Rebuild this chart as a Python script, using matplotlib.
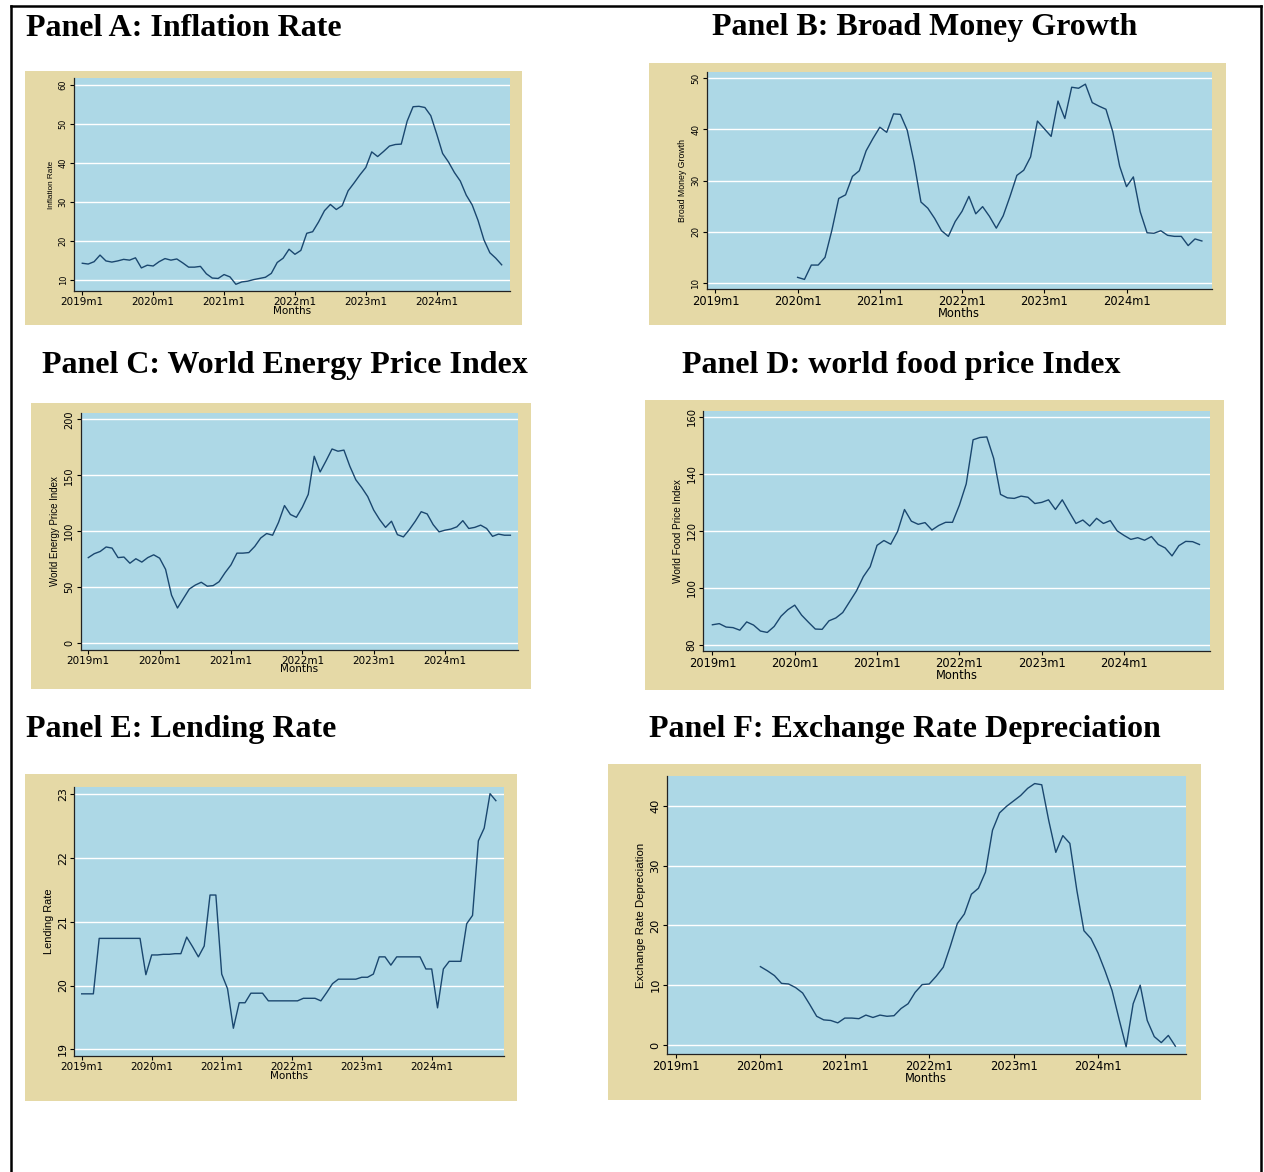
import numpy as np
import matplotlib.pyplot as plt
from matplotlib.patches import Rectangle
from matplotlib.lines import Line2D

W, H = 1264, 1172
nan = np.nan

months = np.arange(72)
tick_pos = [0, 12, 24, 36, 48, 60]
tick_lab = ["2019m1", "2020m1", "2021m1", "2022m1", "2023m1", "2024m1"]

inflation = [14.3, 14.1, 14.7, 16.4, 14.9, 14.6, 14.9, 15.3, 15.1, 15.7, 13.1, 13.8,
             13.6, 14.7, 15.5, 15.1, 15.4, 14.4, 13.3, 13.3, 13.5, 11.6, 10.5, 10.4,
             11.4, 10.8, 8.9, 9.5, 9.7, 10.1, 10.4, 10.7, 11.7, 14.5, 15.6, 17.9,
             16.6, 17.6, 22.0, 22.4, 24.9, 27.8, 29.4, 28.1, 29.1, 32.9, 34.9, 37.0,
             38.9, 42.9, 41.7, 43.0, 44.4, 44.8, 44.9, 50.8, 54.5, 54.6, 54.3, 52.2,
             47.5, 42.5, 40.3, 37.6, 35.4, 31.8, 29.3, 25.3, 20.3, 17.0, 15.6, 13.9]

broad_money = [nan] * 12 + [
    11.1, 10.7, 13.5, 13.5, 15.0, 20.3, 26.5, 27.2, 30.8, 31.9, 35.8, 38.2,
    40.4, 39.4, 43.0, 42.9, 39.8, 33.5, 25.8, 24.6, 22.6, 20.2, 19.1, 22.0,
    24.0, 26.9, 23.5, 24.9, 23.0, 20.7, 23.1, 26.9, 31.0, 32.0, 34.6, 41.6,
    40.1, 38.6, 45.5, 42.1, 48.2, 48.0, 48.8, 45.2, 44.5, 43.9, 39.5, 32.8,
    28.8, 30.7, 23.9, 19.8, 19.7, 20.2, 19.3, 19.1, 19.1, 17.3, 18.6, 18.2]

energy = [76.5, 80, 82, 86, 85, 76.5, 77, 71.5, 75.5, 72.5, 76.5, 79,
          76, 66, 43, 31.5, 40, 48.5, 52, 54.5, 51, 51.5, 55, 63,
          70, 80.5, 80.5, 81, 86.5, 94, 98, 96.5, 108, 123, 115, 112.5,
          121.5, 133, 167, 153, 163, 173.5, 171.5, 172.5, 158, 146, 139, 131,
          119, 110.5, 103.5, 109, 97, 95, 101.5, 109, 117.5, 115.5, 106, 99.5,
          101, 102, 104, 109.5, 102.5, 103.5, 105.5, 102.5, 95.5, 97.5, 96.5, 96.5]

food = [87.0, 87.4, 86.2, 86.0, 85.1, 88.0, 86.9, 84.8, 84.3, 86.4, 90.0, 92.3,
        93.9, 90.4, 87.9, 85.5, 85.4, 88.4, 89.4, 91.3, 95.1, 98.9, 103.9, 107.4,
        114.9, 116.6, 115.3, 119.8, 127.5, 123.4, 122.3, 122.9, 120.3, 121.9, 123.0, 123.0,
        129.0, 136.5, 152.0, 152.8, 153.0, 145.5, 132.8, 131.6, 131.4, 132.2, 131.8, 129.6,
        130.0, 130.9, 127.5, 130.9, 126.7, 122.6, 123.8, 121.7, 124.4, 122.6, 123.6, 120.0,
        118.4, 117.0, 117.6, 116.7, 118.0, 115.2, 114.0, 111.2, 114.8, 116.3, 116.2, 115.2]

lending = [19.87, 19.87, 19.87, 20.74, 20.74, 20.74, 20.74, 20.74, 20.74, 20.74, 20.74, 20.17,
           20.48, 20.48, 20.49, 20.49, 20.50, 20.50, 20.76, 20.61, 20.45, 20.62, 21.42, 21.42,
           20.18, 19.95, 19.33, 19.73, 19.73, 19.88, 19.88, 19.88, 19.76, 19.76, 19.76, 19.76,
           19.76, 19.76, 19.80, 19.80, 19.80, 19.76, 19.89, 20.03, 20.10, 20.10, 20.10, 20.10,
           20.13, 20.13, 20.18, 20.45, 20.45, 20.32, 20.45, 20.45, 20.45, 20.45, 20.45, 20.26,
           20.26, 19.65, 20.26, 20.38, 20.38, 20.38, 20.97, 21.10, 22.27, 22.47, 23.01, 22.90]

exch_dep = [nan] * 12 + [
    13.1, 12.4, 11.6, 10.3, 10.2, 9.6, 8.7, 6.8, 4.8, 4.2, 4.1, 3.7,
    4.5, 4.5, 4.4, 5.0, 4.6, 5.0, 4.8, 4.9, 6.1, 6.9, 8.8, 10.1,
    10.2, 11.5, 13.0, 16.5, 20.3, 21.9, 25.2, 26.2, 28.9, 35.9, 38.8, 39.9,
    40.8, 41.7, 42.9, 43.7, 43.5, 37.5, 32.2, 35.0, 33.7, 25.8, 19.1, 17.8,
    15.4, 12.4, 9.1, 4.3, -0.3, 6.9, 10.0, 4.1, 1.4, 0.4, 1.6, -0.2]

titles = ["Panel A: Inflation Rate", "Panel B: Broad Money Growth",
          "Panel C: World Energy Price Index", "Panel D: world food price Index",
          "Panel E: Lending Rate", "Panel F: Exchange Rate Depreciation"]
ylabels = ["Inflation Rate", "Broad Money Growth", "World Energy Price Index",
           "World Food Price Index", "Lending Rate", "Exchange Rate Depreciation"]
yticks = [[10, 20, 30, 40, 50, 60], [10, 20, 30, 40, 50], [0, 50, 100, 150, 200],
          [80, 100, 120, 140, 160], [19, 20, 21, 22, 23], [0, 10, 20, 30, 40]]
series = [inflation, broad_money, energy, food, lending, exch_dep]

# layout in pixels of the reference
title_xy = [(26, 28), (712, 28), (42, 365), (682, 365), (26, 729), (649, 729)]
tan_box = [(25, 71, 522, 325), (649, 63, 1226, 325), (31, 403, 531, 689),
           (645, 400, 1224, 690), (25, 774, 517, 1101), (608, 764, 1201, 1100)]
ax_box = [(74, 78, 510, 291), (706.5, 72, 1211.7, 288.7), (80.7, 413, 518, 649.5),
          (703, 410.7, 1210, 651), (74.3, 787, 504, 1056), (666.7, 776, 1185.7, 1054)]
# pixel of month 0 / month 60, pixel of lowest / highest y tick
xcal = [(82.3, 436.7), (715.4, 1126.5), (88.3, 445), (712.4, 1124), (81.7, 431.7), (676, 1098)]
ycal = [(280, 85.3), (283, 78), (643.3, 419.3), (644.7, 417), (1049.3, 794.3), (1045, 805.7)]
yfs = [5.9, 6.3, 7, 7.2, 7.9, 8.2]
xfs = [7.5, 8.3, 7.5, 8.3, 7.5, 8.3]

TAN = "#e5d9a6"
BLUE = "#add8e6"
NAVY = "#1a476f"

fig = plt.figure(figsize=(W / 100, H / 100), dpi=100)

for i in range(6):
    x0, y0, x1, y1 = tan_box[i]
    fig.patches.append(Rectangle((x0 / W, 1 - y1 / H), (x1 - x0) / W, (y1 - y0) / H,
                                 transform=fig.transFigure, facecolor=TAN, edgecolor="none", zorder=-10))
    l, t, r, b = ax_box[i]
    ax = fig.add_axes([l / W, 1 - b / H, (r - l) / W, (b - t) / H])
    ax.set_facecolor(BLUE)
    ppm = (xcal[i][1] - xcal[i][0]) / 60
    ax.set_xlim((l - xcal[i][0]) / ppm, (r - xcal[i][0]) / ppm)
    yt = yticks[i]
    ppu = (ycal[i][0] - ycal[i][1]) / (yt[-1] - yt[0])
    ax.set_ylim(yt[0] - (b - ycal[i][0]) / ppu, yt[-1] + (ycal[i][1] - t) / ppu)
    ax.plot(months, series[i], color=NAVY, lw=1.0)
    ax.set_yticks(yt)
    ax.set_yticklabels([str(v) for v in yt], rotation=90, va="center", fontsize=yfs[i])
    ax.set_xticks(tick_pos)
    ax.set_xticklabels(tick_lab, fontsize=xfs[i])
    ax.grid(axis="y", color="white", lw=1.0)
    ax.set_axisbelow(True)
    for s in ["top", "right"]:
        ax.spines[s].set_visible(False)
    for s in ["left", "bottom"]:
        ax.spines[s].set_color("#222222")
        ax.spines[s].set_linewidth(0.9)
    ax.tick_params(length=3, width=0.8, pad=1.5)
    ax.set_xlabel("Months", fontsize=xfs[i], labelpad=-1)
    ax.set_ylabel(ylabels[i], fontsize=yfs[i], family="Liberation Sans", labelpad=3)
    tx, ty = title_xy[i]
    fig.text(tx / W, 1 - ty / H, titles[i], ha="left", va="center",
             family="Liberation Serif", weight="bold", fontsize=23)

# page border
lw = 1.8
fig.add_artist(Line2D([11 / W, 11 / W], [0, 1 - 6 / H], color="black", lw=lw))
fig.add_artist(Line2D([11 / W, 1261 / W], [1 - 6 / H, 1 - 6 / H], color="black", lw=lw))
fig.add_artist(Line2D([1261 / W, 1261 / W], [0, 1 - 6 / H], color="black", lw=lw))

fig.savefig("out.png", dpi=100, facecolor="white")
